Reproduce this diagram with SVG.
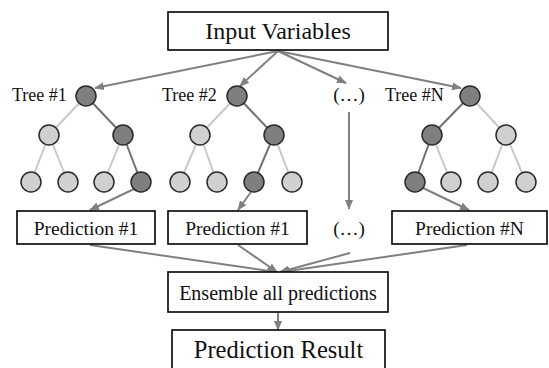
<svg xmlns="http://www.w3.org/2000/svg" width="549" height="368" viewBox="0 0 549 368">
<defs>
<marker id="ah" markerUnits="userSpaceOnUse" markerWidth="10" markerHeight="8" refX="9" refY="4" orient="auto">
<path d="M0,0 L10,4 L0,8 Z" fill="#808080"/>
</marker>
<style>
.box{fill:#fff;stroke:#000;stroke-width:1.6}
.t{font-family:"Liberation Serif","Times New Roman",serif;fill:#111}
.c{font-family:"Liberation Serif","Times New Roman",serif;fill:#111;text-anchor:middle}
.arr{stroke:#808080;stroke-width:2;fill:none;marker-end:url(#ah)}
.el{stroke:#c8c8c8;stroke-width:2}
.ed{stroke:#707070;stroke-width:2}
.nl{fill:#d0d0d0;stroke:#2a2a2a;stroke-width:1.5}
.nd{fill:#7f7f7f;stroke:#2a2a2a;stroke-width:1.5}
</style>
</defs>
<rect width="549" height="368" fill="#fff"/>
<g id="connectors">
<line class="arr" x1="278" y1="51" x2="95" y2="88"/>
<line class="arr" x1="278" y1="51" x2="240" y2="86"/>
<line class="arr" x1="278" y1="51" x2="346" y2="83"/>
<line class="arr" x1="278" y1="51" x2="461" y2="88"/>
<line class="arr" x1="349" y1="112" x2="349" y2="209"/>
<line class="arr" x1="134" y1="189" x2="90" y2="210"/>
<line class="arr" x1="251" y1="192" x2="238" y2="210"/>
<line class="arr" x1="423" y1="188" x2="469" y2="210"/>
<line class="arr" x1="90" y1="245" x2="276" y2="272"/>
<line class="arr" x1="238" y1="245" x2="277" y2="272"/>
<line class="arr" x1="350" y1="253" x2="280" y2="272"/>
<line class="arr" x1="467" y1="245" x2="281" y2="272"/>
<line class="arr" x1="278" y1="313" x2="278" y2="330"/>
</g>
<g id="input">
<rect class="box" x="168" y="12" width="220" height="38"/>
<text class="c" x="278" y="39" font-size="24">Input Variables</text>
</g>
<g id="tree1">
<text class="t" x="12" y="101" font-size="18">Tree #1</text>
<line class="el" x1="86" y1="96" x2="49" y2="135"/>
<line class="ed" x1="86" y1="96" x2="123" y2="135"/>
<line class="el" x1="49" y1="135" x2="31" y2="182"/>
<line class="el" x1="49" y1="135" x2="68" y2="182"/>
<line class="el" x1="123" y1="135" x2="104" y2="182"/>
<line class="ed" x1="123" y1="135" x2="141" y2="182"/>
<circle class="nd" cx="86" cy="96" r="10"/>
<circle class="nl" cx="49" cy="135" r="10"/>
<circle class="nd" cx="123" cy="135" r="10"/>
<circle class="nl" cx="31" cy="182" r="10"/>
<circle class="nl" cx="68" cy="182" r="10"/>
<circle class="nl" cx="104" cy="182" r="10"/>
<circle class="nd" cx="141" cy="182" r="10"/>
</g>
<g id="tree2">
<text class="t" x="162" y="101" font-size="18">Tree #2</text>
<line class="el" x1="237" y1="96" x2="200" y2="135"/>
<line class="ed" x1="237" y1="96" x2="274" y2="135"/>
<line class="el" x1="200" y1="135" x2="180" y2="182"/>
<line class="el" x1="200" y1="135" x2="217" y2="182"/>
<line class="ed" x1="274" y1="135" x2="254" y2="182"/>
<line class="el" x1="274" y1="135" x2="292" y2="182"/>
<circle class="nd" cx="237" cy="96" r="10"/>
<circle class="nl" cx="200" cy="135" r="10"/>
<circle class="nd" cx="274" cy="135" r="10"/>
<circle class="nl" cx="180" cy="182" r="10"/>
<circle class="nl" cx="217" cy="182" r="10"/>
<circle class="nd" cx="254" cy="182" r="10"/>
<circle class="nl" cx="292" cy="182" r="10"/>
</g>
<g id="dots-top">
<text class="c" x="349" y="101" font-size="19">(…)</text>
</g>
<g id="treeN">
<text class="t" x="385" y="101" font-size="18">Tree #N</text>
<line class="ed" x1="470" y1="96" x2="432" y2="135"/>
<line class="el" x1="470" y1="96" x2="506" y2="135"/>
<line class="ed" x1="432" y1="135" x2="415" y2="182"/>
<line class="el" x1="432" y1="135" x2="451" y2="182"/>
<line class="el" x1="506" y1="135" x2="488" y2="182"/>
<line class="el" x1="506" y1="135" x2="526" y2="182"/>
<circle class="nd" cx="470" cy="96" r="10"/>
<circle class="nd" cx="432" cy="135" r="10"/>
<circle class="nl" cx="506" cy="135" r="10"/>
<circle class="nd" cx="415" cy="182" r="10"/>
<circle class="nl" cx="451" cy="182" r="10"/>
<circle class="nl" cx="488" cy="182" r="10"/>
<circle class="nl" cx="526" cy="182" r="10"/>
</g>
<g id="pred1">
<rect class="box" x="17" y="211" width="138" height="33"/>
<text class="c" x="86" y="235" font-size="19.5">Prediction #1</text>
</g>
<g id="pred2">
<rect class="box" x="168" y="211" width="139" height="33"/>
<text class="c" x="237.5" y="235" font-size="19.5">Prediction #1</text>
</g>
<g id="dots-mid">
<text class="c" x="349" y="235" font-size="19">(…)</text>
</g>
<g id="predN">
<rect class="box" x="392" y="211" width="155" height="33"/>
<text class="c" x="469.5" y="235" font-size="19.5">Prediction #N</text>
</g>
<g id="ensemble">
<rect class="box" x="168" y="272" width="220" height="40"/>
<text class="c" x="278" y="300" font-size="20">Ensemble all predictions</text>
</g>
<g id="result">
<rect class="box" x="172" y="330" width="213" height="50"/>
<text class="c" x="278.5" y="358" font-size="24.5">Prediction Result</text>
</g>
</svg>
